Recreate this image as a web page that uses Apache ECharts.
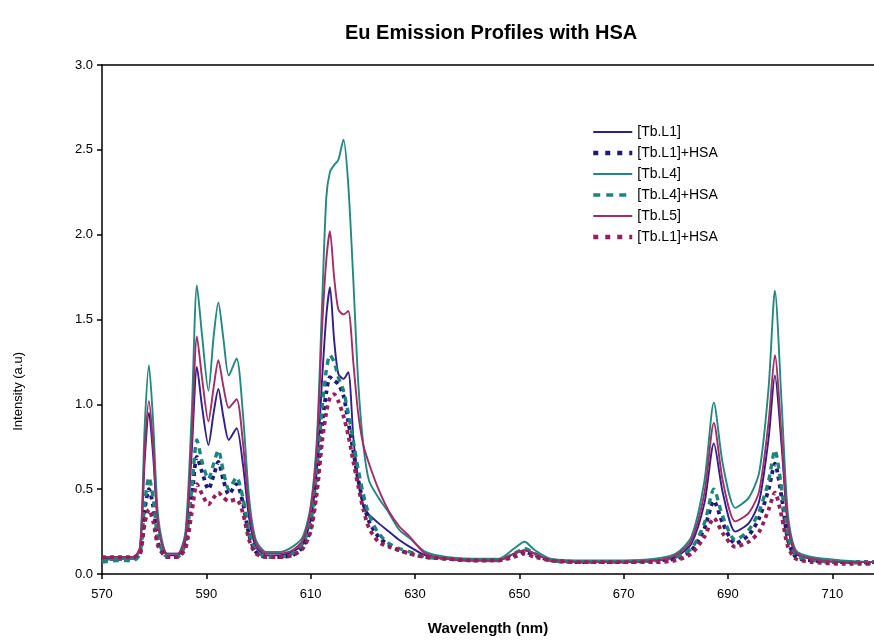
<!DOCTYPE html>
<html><head><meta charset="utf-8">
<script src="https://cdn.jsdelivr.net/npm/echarts@6/dist/echarts.min.js"></script>
<style>html,body{margin:0;padding:0;background:#fff}#c{width:874px;height:641px}</style>
</head><body><div id="c"></div>
<script>
const wavelength = [570,573,576,577.3,578.2,579,579.8,580.8,582.5,584.5,586,587.2,588.2,589.2,590.4,591.4,592.3,593.3,594.3,595.8,597,598.2,599.5,601.5,604,606.5,608.5,610,611.2,612.2,613,613.7,614.5,615.3,616.3,617.2,618.2,619.1,620.1,621.2,623,625,627,629,632,636,641,646,649,651,653,656,662,670,676,680,683,685.5,687.3,689,691.4,694,696,697.8,699,700.3,701.5,703,706,712,718];
const tbL1 = [0.09,0.09,0.09,0.15,0.68,0.95,0.7,0.28,0.11,0.11,0.2,0.72,1.22,0.98,0.76,0.95,1.09,0.92,0.79,0.86,0.65,0.33,0.16,0.11,0.11,0.13,0.18,0.32,0.62,1.15,1.52,1.69,1.38,1.18,1.15,1.19,0.8,0.56,0.4,0.35,0.3,0.25,0.2,0.16,0.11,0.09,0.08,0.08,0.12,0.14,0.12,0.08,0.07,0.07,0.08,0.1,0.18,0.42,0.77,0.48,0.25,0.3,0.43,0.8,1.17,0.75,0.28,0.12,0.09,0.07,0.07];
const tbL1HSA = [0.09,0.09,0.09,0.12,0.38,0.5,0.4,0.18,0.1,0.1,0.17,0.45,0.69,0.6,0.5,0.58,0.66,0.55,0.47,0.53,0.42,0.23,0.13,0.1,0.1,0.11,0.16,0.27,0.55,0.88,1.07,1.16,1.14,1.12,1.05,0.9,0.72,0.56,0.42,0.31,0.22,0.17,0.14,0.12,0.1,0.09,0.08,0.08,0.11,0.13,0.11,0.08,0.07,0.07,0.08,0.09,0.14,0.27,0.43,0.3,0.18,0.23,0.33,0.5,0.65,0.45,0.2,0.1,0.08,0.07,0.07];
const tbL4 = [0.08,0.09,0.09,0.16,0.88,1.23,0.9,0.33,0.12,0.12,0.25,0.95,1.7,1.4,1.08,1.4,1.6,1.38,1.17,1.27,0.95,0.45,0.2,0.13,0.13,0.16,0.22,0.4,0.8,1.6,2.22,2.37,2.41,2.44,2.56,2.3,1.72,1.14,0.76,0.55,0.45,0.36,0.26,0.21,0.13,0.1,0.09,0.09,0.15,0.19,0.14,0.09,0.08,0.08,0.09,0.12,0.22,0.55,1.01,0.65,0.39,0.45,0.6,1.1,1.67,1.0,0.35,0.14,0.1,0.08,0.07];
const tbL4HSA = [0.07,0.08,0.08,0.12,0.42,0.57,0.45,0.2,0.1,0.1,0.18,0.5,0.79,0.66,0.56,0.65,0.73,0.6,0.5,0.57,0.45,0.25,0.14,0.1,0.1,0.12,0.18,0.3,0.62,0.98,1.2,1.29,1.25,1.16,1.08,0.95,0.78,0.62,0.47,0.35,0.24,0.18,0.15,0.13,0.1,0.09,0.08,0.08,0.12,0.15,0.12,0.08,0.07,0.07,0.08,0.1,0.15,0.3,0.5,0.34,0.2,0.26,0.37,0.55,0.73,0.5,0.22,0.11,0.08,0.07,0.06];
const tbL5 = [0.1,0.1,0.1,0.16,0.74,1.02,0.76,0.28,0.12,0.12,0.22,0.8,1.4,1.15,0.9,1.1,1.26,1.1,0.98,1.03,0.78,0.38,0.18,0.12,0.12,0.14,0.2,0.38,0.75,1.45,1.85,2.02,1.75,1.56,1.53,1.55,1.24,0.95,0.76,0.65,0.5,0.37,0.28,0.22,0.12,0.09,0.08,0.08,0.12,0.14,0.12,0.08,0.07,0.07,0.08,0.11,0.2,0.48,0.89,0.55,0.31,0.36,0.49,0.9,1.29,0.8,0.3,0.13,0.09,0.07,0.07];
const tbL5HSA = [0.1,0.1,0.1,0.12,0.3,0.38,0.31,0.16,0.1,0.1,0.15,0.36,0.53,0.47,0.41,0.45,0.48,0.45,0.43,0.44,0.36,0.2,0.12,0.1,0.1,0.11,0.15,0.25,0.48,0.78,0.95,1.04,1.06,1.02,0.93,0.82,0.66,0.52,0.38,0.27,0.19,0.16,0.14,0.12,0.1,0.09,0.08,0.08,0.1,0.12,0.1,0.08,0.07,0.07,0.07,0.08,0.12,0.22,0.33,0.24,0.16,0.19,0.25,0.38,0.48,0.34,0.16,0.09,0.07,0.06,0.06];
const seriesNames = ['[Tb.L1]','[Tb.L1]+HSA','[Tb.L4]','[Tb.L4]+HSA','[Tb.L5]','[Tb.L1]+HSA '];
const xTicks = [570,590,610,630,650,670,690,710];
const yTicks = [0,0.5,1,1.5,2,2.5,3];

const F = 'Liberation Sans, Arial, sans-serif';
const pair = a => wavelength.map((w,i)=>[w,a[i]]);
const styles = [
  {c:'#2e1f8c', w:1.9, t:'solid', lw:1.8, lt:'solid'},
  {c:'#211a75', w:3.8, t:[4,4], lw:4.5, lt:[5,7]},
  {c:'#23887f', w:1.9, t:'solid', lw:1.8, lt:'solid'},
  {c:'#1f857c', w:3.4, t:[6,5], lw:3.5, lt:[7,6]},
  {c:'#a32c66', w:1.9, t:'solid', lw:1.8, lt:'solid'},
  {c:'#941f5a', w:3.8, t:[4,4], lw:4.5, lt:[5,7]}
];
const datas = [tbL1,tbL1HSA,tbL4,tbL4HSA,tbL5,tbL5HSA];
const chart = echarts.init(document.getElementById('c'));
chart.setOption({
  animation:false,
  backgroundColor:'#fff',
  title:{text:'Eu Emission Profiles with HSA', left:340, top:18,
    textStyle:{fontFamily:F, fontSize:20, fontWeight:'bold', color:'#000'}},
  legend:{orient:'vertical', left:586, top:120, itemWidth:39, itemHeight:10, itemGap:7,
    itemStyle:{opacity:0},
    textStyle:{fontFamily:F, fontSize:14, color:'#000', padding:[0,0,0,0]},
    data:seriesNames.map((n,i)=>({name:n, lineStyle:{width:styles[i].lw, type:styles[i].lt, color:styles[i].c}}))},
  grid:{left:102, right:0, top:65, bottom:57},
  xAxis:[{type:'value', min:570, max:718, interval:20,
    name:'Wavelength (nm)', nameLocation:'middle', nameGap:47,
    nameTextStyle:{fontFamily:F, fontSize:15, fontWeight:'bold', color:'#000'},
    axisLine:{lineStyle:{color:'#000', width:1.5}},
    axisTick:{length:5, lineStyle:{color:'#000', width:1.5}},
    axisLabel:{fontFamily:F, fontSize:13, color:'#000', margin:14, showMaxLabel:false,
      formatter:v=> xTicks.includes(Math.round(v)) ? String(Math.round(v)) : ''},
    splitLine:{show:false}},
   {type:'value', position:'top', min:570, max:718, axisLine:{show:true, lineStyle:{color:'#000', width:1.5}},
    axisTick:{show:false}, axisLabel:{show:false}, splitLine:{show:false}}],
  yAxis:{type:'value', min:0, max:3, interval:0.5,
    axisLine:{show:true, lineStyle:{color:'#000', width:1.5}},
    axisTick:{show:true, length:5, lineStyle:{color:'#000', width:1.5}},
    axisLabel:{fontFamily:F, fontSize:13, color:'#000', margin:9, formatter:v=>v.toFixed(1)},
    splitLine:{show:false}},
  graphic:[{type:'text', left:12, top:352, rotation:Math.PI/2,
    style:{text:'Intensity (a.u)', font:'13px '+F, fill:'#000'}}],
  series: datas.map((d,i)=>({
    name:seriesNames[i], type:'line', data:pair(d), showSymbol:false, symbol:'none',
    smooth:0.25, lineStyle:{color:styles[i].c, width:styles[i].w, type:styles[i].t},
    itemStyle:{color:styles[i].c}
  }))
});
</script></body></html>
